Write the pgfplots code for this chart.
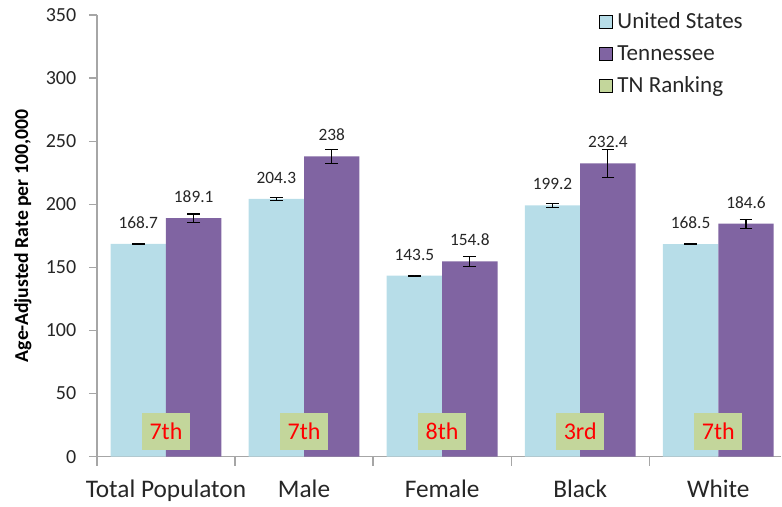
\documentclass[border=0pt]{standalone}
\usepackage{fontspec}
\setmainfont{Carlito}
\usepackage{pgfplots}
\pgfplotsset{compat=1.18}
\definecolor{usblue}{HTML}{B7DDE8}
\definecolor{tnpurple}{HTML}{8064A2}
\definecolor{rankgreen}{HTML}{C3D69B}
\definecolor{axisgray}{HTML}{A6A6A6}
\definecolor{txt}{HTML}{262626}

\begin{document}
\begin{tikzpicture}
\begin{axis}[
  scale only axis,
  width=513.75pt, height=331.5pt,
  xmin=-0.5, xmax=4.457,
  ymin=0, ymax=350,
  ytick={0,50,...,350},
  xtick={0,...,4},
  xticklabels={Total Populaton,Male,Female,Black,White},
  minor xtick={-0.5,0.5,...,3.5},
  axis x line*=bottom, axis y line*=left,
  axis line style={draw=axisgray, line width=0.9pt, -},
  tick style={draw=axisgray, line width=0.9pt},
  tick align=outside,
  major tick length=6pt,
  minor tick length=7pt,
  major x tick style={draw=none},
  /pgf/number format/assume math mode=true,
  yticklabel style={font=\fontsize{15}{18}\selectfont, text=txt, xshift=-6pt},
  xticklabel style={font=\fontsize{19}{22}\selectfont, text=txt, yshift=-8pt},
  ylabel={Age-Adjusted Rate per 100,000},
  ylabel style={font=\bfseries\fontsize{14.8}{18}\selectfont, text=black},
  ylabel shift=4pt,
  legend image code/.code={\fill[#1] (0pt,-4.9pt) rectangle (9.75pt,4.9pt);},
  legend cell align=left,
  legend style={draw=none, fill=none, at={(0.7277,1.018)}, anchor=north west,
    font=\fontsize{17.3}{20}\selectfont, text=txt, row sep=7pt,
    /tikz/every odd column/.append style={column sep=1.5pt}},
  clip=false,
]
% United States bars, drawn left of each category centre
\addplot[ybar, bar width=0.4015, bar shift=0pt, fill=usblue, draw=none, forget plot,
  nodes near coords,
  every node near coord/.append style={font=\fontsize{13}{15}\selectfont, text=txt, yshift=8pt},
  error bars/.cd, y dir=both, y explicit,
  error bar style={draw=black, line width=0.8pt},
  error mark options={rotate=90, draw=black, mark size=4.8pt, line width=0.8pt}]
  table[x=x, y=y, y error=e] {
x y e
-0.2007 168.7 0.4
0.7993 204.3 1.0
1.7993 143.5 0.4
2.7993 199.2 1.5
3.7993 168.5 0.4
};
% Tennessee bars
\addplot[ybar, bar width=0.4015, bar shift=0pt, fill=tnpurple, draw=none, forget plot,
  nodes near coords,
  every node near coord/.append style={font=\fontsize{13}{15}\selectfont, text=txt, yshift=8pt},
  error bars/.cd, y dir=both, y explicit,
  error bar style={draw=black, line width=0.8pt},
  error mark options={rotate=90, draw=black, mark size=4.8pt, line width=0.8pt}]
  table[x=x, y=y, y error=e] {
x y e
0.2007 189.1 3.2
1.2007 238.0 5.5
2.2007 154.8 4.0
3.2007 232.4 11.2
4.2007 184.6 3.6
};
% TN ranking boxes
\addplot[draw=none, mark=none, forget plot,
  nodes near coords, point meta=explicit symbolic,
  every node near coord/.style={anchor=center, fill=rankgreen, text=red,
    font=\fontsize{18}{20}\selectfont, minimum width=36pt, minimum height=27.75pt, inner sep=0pt}]
  table[x=x, y=y, meta=r] {
x y r
0 20.2 7th
1 20.2 7th
2 20.2 8th
3 20.2 3rd
4 20.2 7th
};
\addlegendimage{fill=usblue}
\addlegendentry{United States}
\addlegendimage{fill=tnpurple}
\addlegendentry{Tennessee}
\addlegendimage{fill=rankgreen}
\addlegendentry{TN Ranking}
\end{axis}
% white margins left of the y label and above the axis, as in the reference
\path (current axis.south west) ++(-72.75pt,0pt) coordinate (lm);
\path (current axis.north west) ++(0pt,11.25pt) coordinate (tm);
\end{tikzpicture}
\end{document}
